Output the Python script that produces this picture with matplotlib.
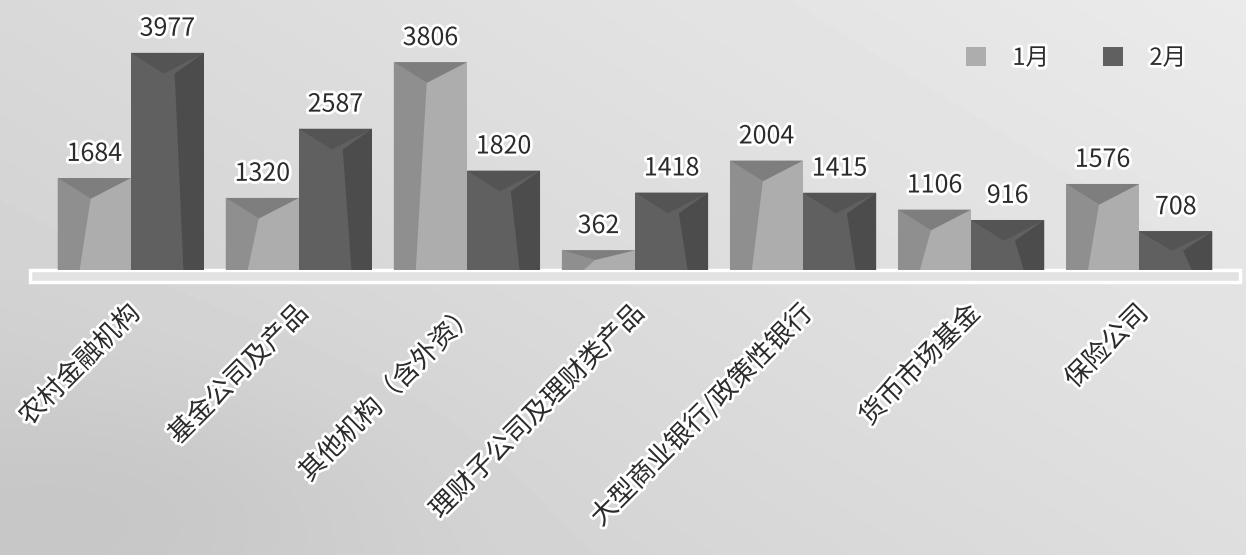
import numpy as np
import matplotlib.pyplot as plt
import matplotlib.patheffects as pe
from matplotlib.patches import Rectangle, Polygon

plt.rcParams['font.family'] = ['Noto Sans CJK SC', 'DejaVu Sans']

# 数据
categories = ['农村金融机构', '基金公司及产品', '其他机构（含外资）', '理财子公司及理财类产品',
              '大型商业银行/政策性银行', '货币市场基金', '保险公司']
jan = [1684, 1320, 3806, 362, 2004, 1106, 1576]
feb = [3977, 2587, 1820, 1418, 1415, 916, 708]
series_names = ['1月', '2月']

fig = plt.figure(figsize=(12.46, 5.55), dpi=100)

# 背景渐变
bg = fig.add_axes([0, 0, 1, 1], zorder=-10)
gx = np.linspace(0, 1, 300)
gy = np.linspace(0, 1, 150)
GX, GY = np.meshgrid(gx, gy)
grad = 0.80 + 0.07 * GX + 0.05 * GY - 0.03 * np.exp(-((GX - 0.1) ** 2 + (GY - 0.1) ** 2) / 0.05)
bg.imshow(grad, cmap='gray', vmin=0, vmax=1, extent=[0, 1, 0, 1], origin='lower', aspect='auto')
bg.axis('off')

ax = fig.add_axes([30 / 1246, 285 / 555, 1210 / 1246, 270 / 555])
ax.patch.set_alpha(0)

x = np.arange(len(categories))
w = 0.435
bars1 = ax.bar(x - w / 2, jan, w, color='#adadad', label=series_names[0], zorder=2)
bars2 = ax.bar(x + w / 2, feb, w, color='#606060', label=series_names[1], zorder=2)

# 立体效果
def shade(bars, side_col, tri_col, dark_left):
    for b in bars:
        x0, wd, h = b.get_x(), b.get_width(), b.get_height()
        d = min(380, h * 0.5)
        apex = (x0 + 0.45 * wd, h - d)
        if dark_left:
            side = [(x0, 0), (x0 + 0.3 * wd, 0), apex, (x0, h)]
        else:
            side = [(x0 + wd, 0), (x0 + 0.72 * wd, 0), (x0 + 0.6 * wd, h - d), (x0 + wd, h)]
        ax.add_patch(Polygon(side, closed=True, color=side_col, zorder=3, lw=0))
        ax.add_patch(Polygon([(x0, h), (x0 + wd, h), apex], closed=True, color=tri_col, zorder=4, lw=0))

shade(bars1, '#8f8f8f', '#7e7e7e', True)
shade(bars2, '#4c4c4c', '#545454', False)

stroke = [pe.withStroke(linewidth=4, foreground='white')]
for bars, vals in [(bars1, jan), (bars2, feb)]:
    for b, v in zip(bars, vals):
        ax.annotate(str(v), (b.get_x() + b.get_width() / 2, v), xytext=(0, 8),
                    textcoords='offset points', ha='center', va='bottom',
                    fontsize=18, color='#2b2b2b', path_effects=stroke, zorder=5)

# 横轴条
ax.add_patch(Rectangle((0, -0.045), 1, 0.045, transform=ax.transAxes, clip_on=False,
                       facecolor='#e2e2e2', edgecolor='white', lw=2.5, zorder=1))

for i, c in enumerate(categories):
    ax.text(i + 0.03, -0.145, c, transform=ax.get_xaxis_transform(), rotation=45,
            rotation_mode='anchor', ha='right', va='center', fontsize=19,
            fontweight='medium', color='#2b2b2b', path_effects=stroke)

ax.set_xlim(-0.6, 6.6)
ax.set_ylim(0, 4945)
ax.set_xticks([])
ax.set_yticks([])
for s in ax.spines.values():
    s.set_visible(False)

leg = ax.legend(loc='upper right', bbox_to_anchor=(0.973, 0.905), ncol=2, frameon=False,
                fontsize=17, handlelength=0.85, handleheight=0.85, columnspacing=2.3,
                handletextpad=1.1)
for t in leg.get_texts():
    t.set_color('#2b2b2b')
    t.set_path_effects(stroke)

fig.savefig('out.png', dpi=100)
